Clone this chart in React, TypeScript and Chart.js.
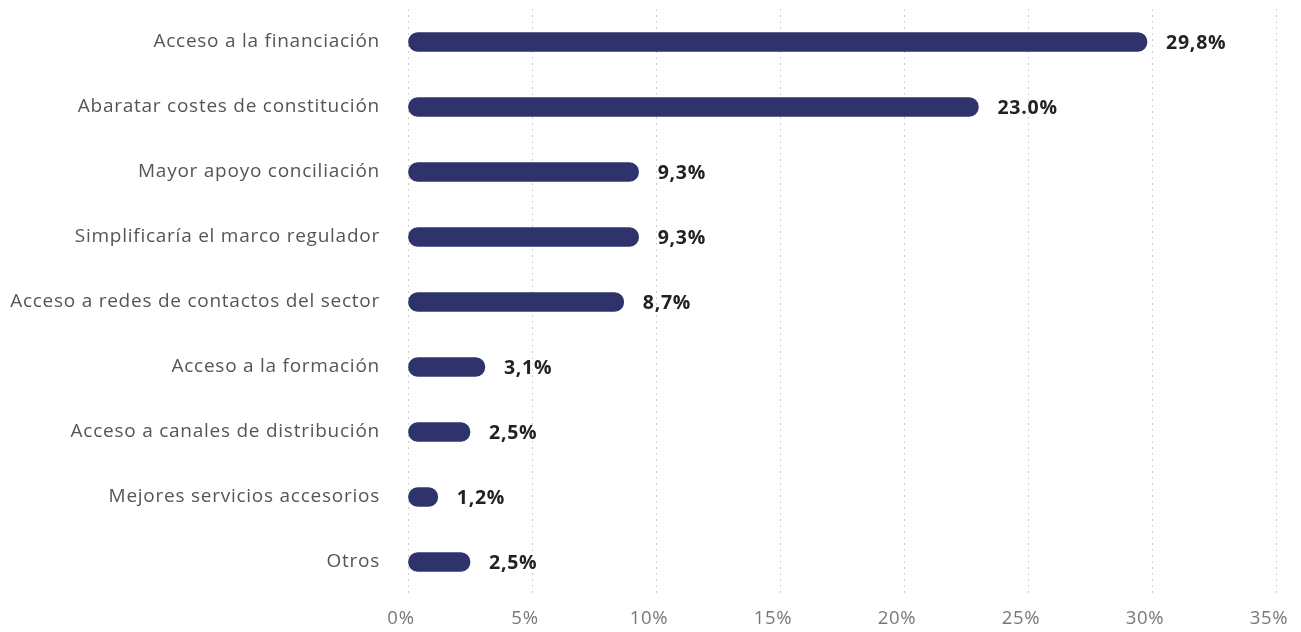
import React, { useEffect, useRef } from "react";
import { Chart, registerables } from "chart.js";

Chart.register(...registerables);

const categories = [
  "Acceso a la financiación",
  "Abaratar costes de constitución",
  "Mayor apoyo conciliación",
  "Simplificaría el marco regulador",
  "Acceso a redes de contactos del sector",
  "Acceso a la formación",
  "Acceso a canales de distribución",
  "Mejores servicios accesorios",
  "Otros",
];
const values = [29.8, 23.0, 9.3, 9.3, 8.7, 3.1, 2.5, 1.2, 2.5];
const valueLabels = ["29,8%", "23.0%", "9,3%", "9,3%", "8,7%", "3,1%", "2,5%", "1,2%", "2,5%"];
const xTicks = [0, 5, 10, 15, 20, 25, 30, 35];

const FONT = "'Open Sans', sans-serif";
const SPACING = "0.75px";

const spacingPlugin = {
  id: "letterSpacing",
  beforeLayout(chart: any) {
    chart.ctx.letterSpacing = SPACING;
  },
  beforeDraw(chart: any) {
    chart.ctx.letterSpacing = SPACING;
  },
};

const valueLabelPlugin = {
  id: "valueLabels",
  afterDatasetsDraw(chart: any) {
    const ctx = chart.ctx;
    const meta = chart.getDatasetMeta(0);
    ctx.save();
    ctx.letterSpacing = SPACING;
    ctx.font = `bold 19.5px ${FONT}`;
    ctx.fillStyle = "#222222";
    ctx.textAlign = "left";
    ctx.textBaseline = "middle";
    meta.data.forEach((bar: any, i: number) => {
      ctx.fillText(valueLabels[i], bar.x + 19, bar.y + 1);
    });
    ctx.restore();
  },
};

export default function App() {
  const ref = useRef<HTMLCanvasElement>(null);
  useEffect(() => {
    if (!ref.current) return;
    const chart = new Chart(ref.current, {
      type: "bar",
      data: {
        labels: categories,
        datasets: [
          {
            data: values,
            backgroundColor: "#2e336b",
            borderRadius: 9.5,
            borderSkipped: false,
            barThickness: 19,
          },
        ],
      },
      options: {
        indexAxis: "y",
        animation: false,
        responsive: true,
        maintainAspectRatio: false,
        layout: { autoPadding: false, padding: { top: 1.5, right: 17, left: 0, bottom: 0 } },
        plugins: { legend: { display: false }, tooltip: { enabled: false } },
        scales: {
          x: {
            min: 0,
            max: 35,
            afterBuildTicks: (axis: any) => {
              axis.ticks = xTicks.map((v) => ({ value: v }));
            },
            afterFit: (axis: any) => {
              axis.height = 37.5;
              axis.paddingLeft = 0;
              axis.paddingRight = 0;
            },
            ticks: {
              callback: (v: any) => `${v}%`,
              color: "#777777",
              font: { family: FONT, size: 18.5 },
              padding: 13,
              labelOffset: -7,
              maxRotation: 0,
            },
            grid: {
              color: "#9a9a9a",
              lineWidth: 1,
              drawTicks: false,
            },
            border: { display: false, dash: [1, 5] },
          },
          y: {
            afterFit: (axis: any) => {
              axis.width = 400;
              axis.paddingTop = 0;
              axis.paddingBottom = 0;
            },
            ticks: {
              color: "#555555",
              font: { family: FONT, size: 19 },
              padding: 28,
            },
            grid: { display: false, drawTicks: false },
            border: { display: false },
          },
        },
      },
      plugins: [spacingPlugin, valueLabelPlugin],
    });
    return () => chart.destroy();
  }, []);
  return (
    <div style={{ width: "1285px", height: "624px", marginBottom: "-8px" }}>
      <canvas ref={ref} />
    </div>
  );
}
